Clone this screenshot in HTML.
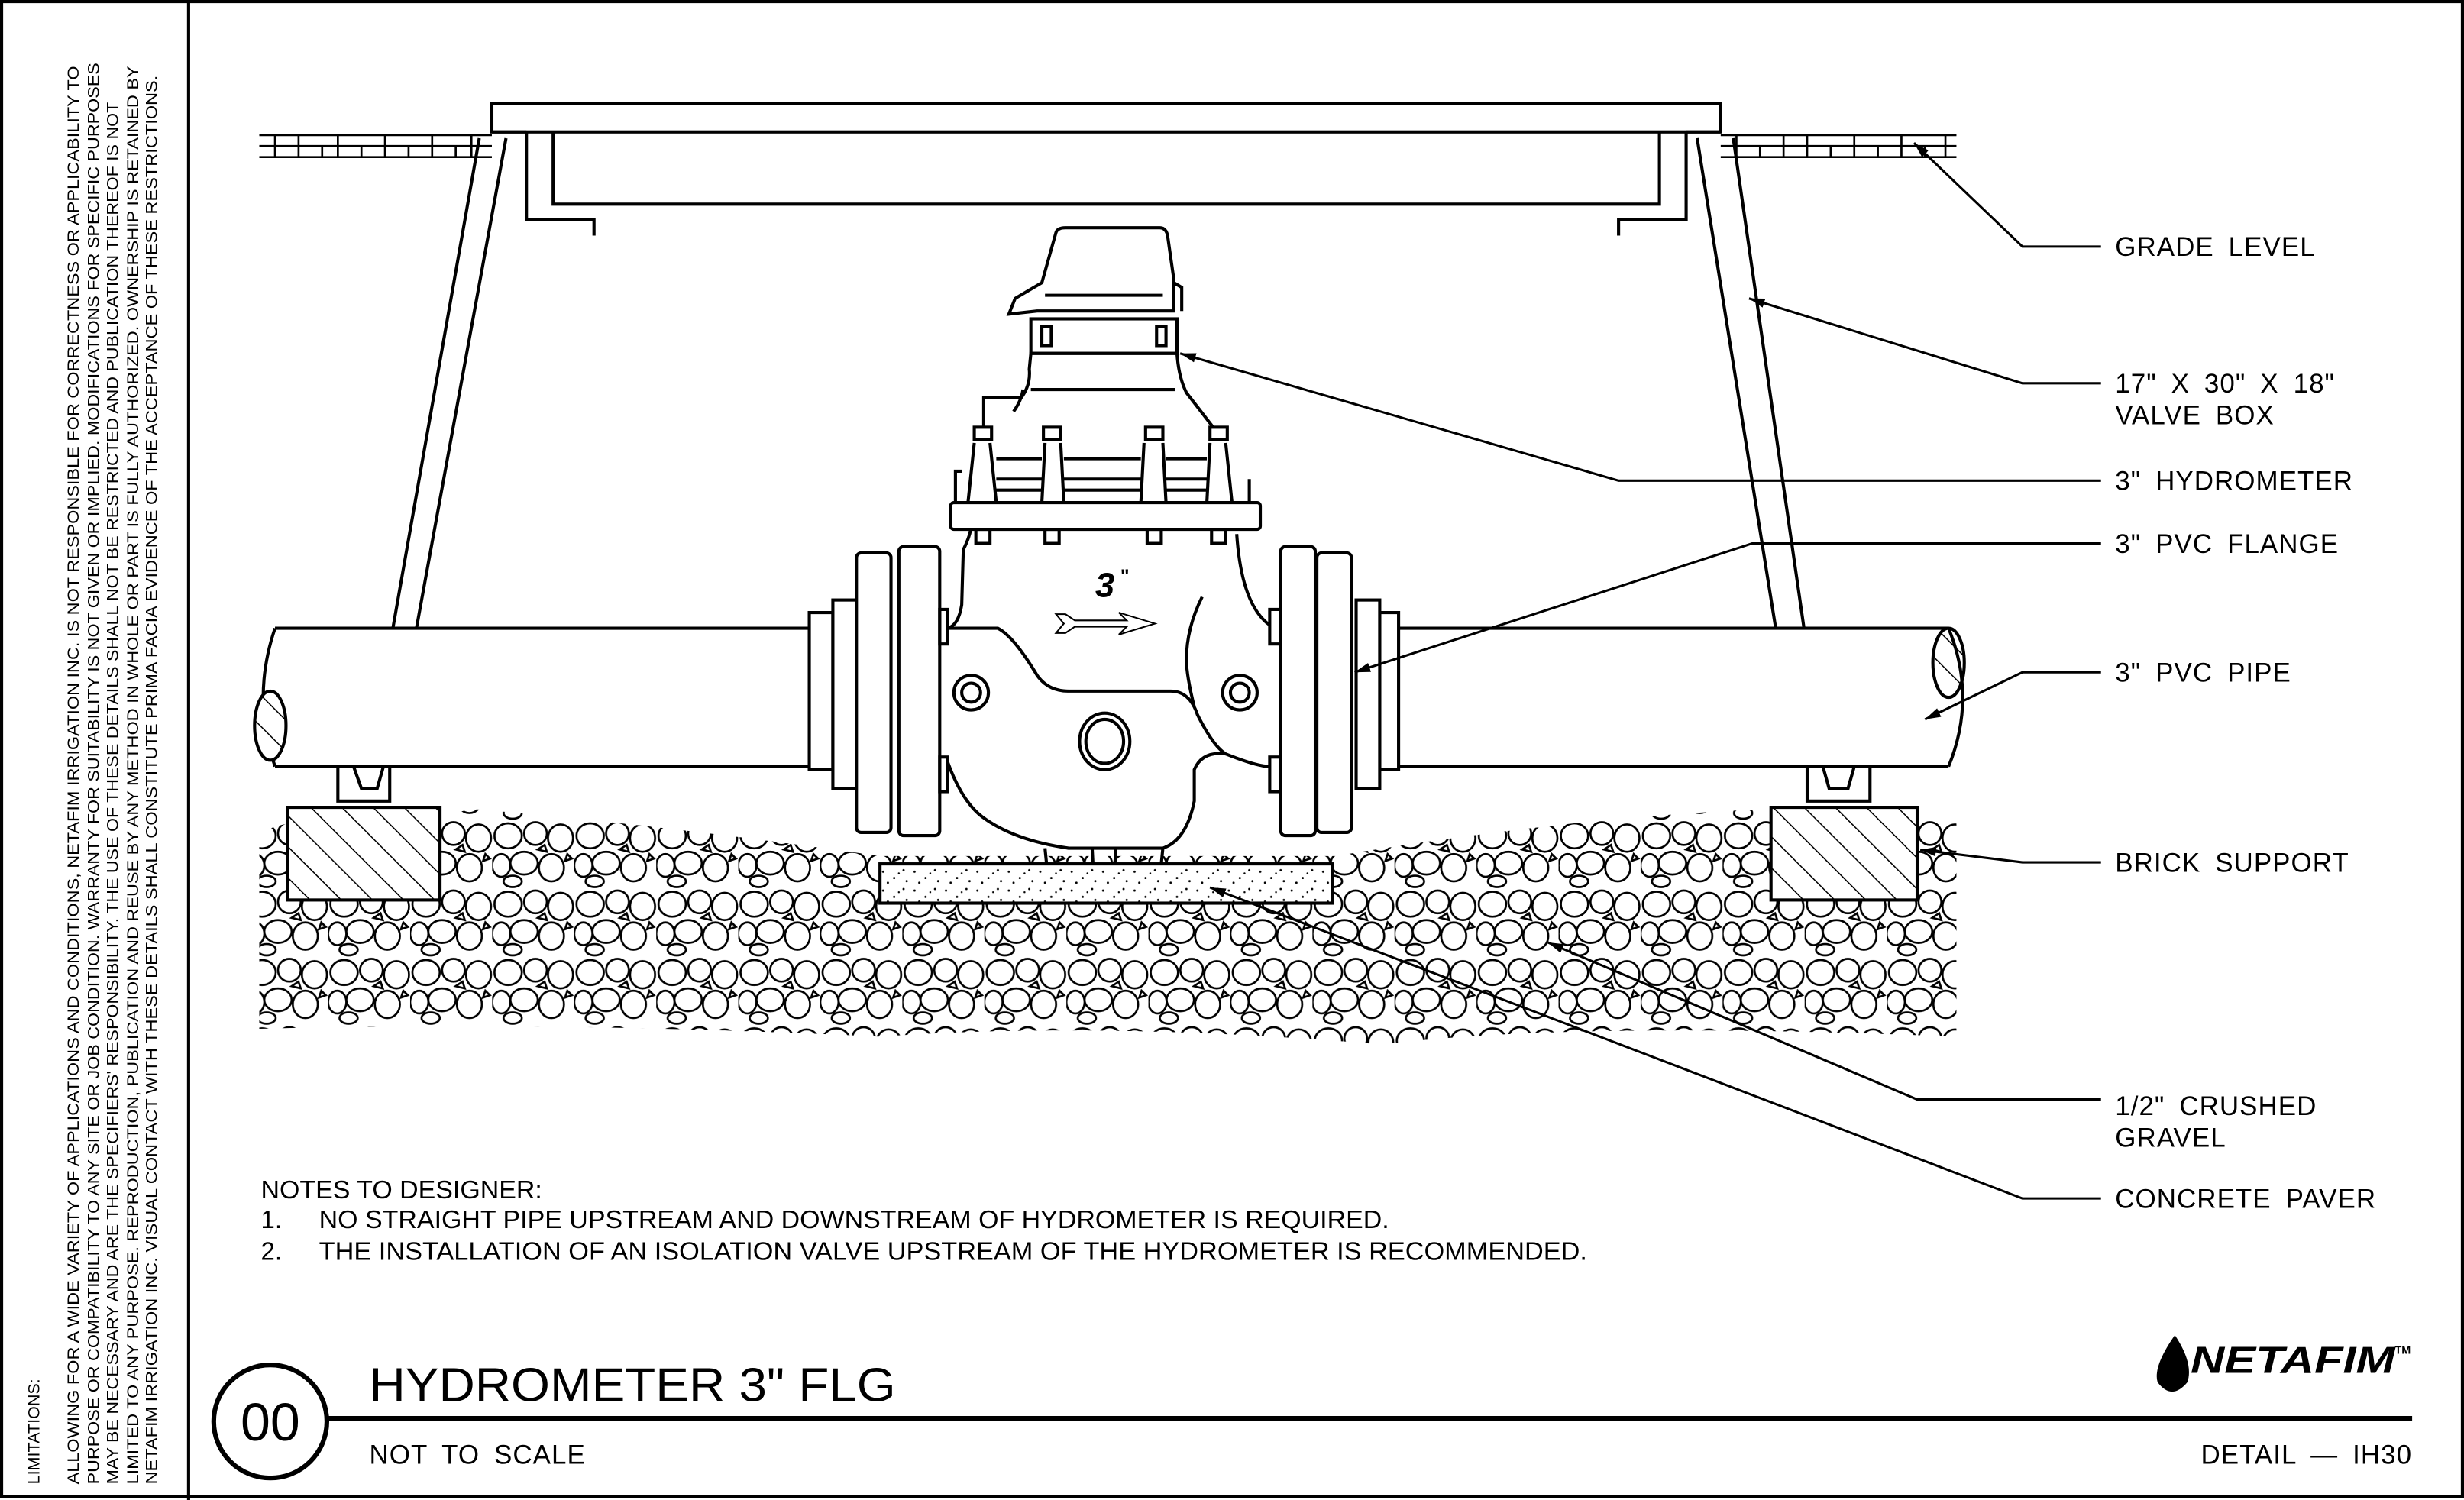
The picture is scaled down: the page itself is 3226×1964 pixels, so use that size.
<!DOCTYPE html>
<html><head><meta charset="utf-8"><style>
html,body{margin:0;padding:0;background:#fff}
svg{display:block}
text{font-family:"Liberation Sans",sans-serif;fill:#000}
</style></head><body>
<svg width="3226" height="1964" viewBox="0 0 1568 955" preserveAspectRatio="none" xmlns="http://www.w3.org/2000/svg">
<defs>
<pattern id="grav" width="36" height="30" patternUnits="userSpaceOnUse" patternTransform="scale(1.45)">
<rect width="36" height="30" fill="#fff"/>
<g fill="none" stroke="#000" stroke-width="0.9">
<ellipse cx="7" cy="7" rx="6" ry="5.5"/><ellipse cx="19" cy="6" rx="5" ry="5"/><ellipse cx="30" cy="8" rx="5.5" ry="6"/>
<ellipse cx="4" cy="20" rx="4" ry="5"/><ellipse cx="14" cy="19" rx="6" ry="5"/><ellipse cx="26" cy="21" rx="5.5" ry="6"/>
<ellipse cx="9" cy="27" rx="4" ry="2.5"/><path d="M20 13 l3 -2 l1 3z M33 15 l2 2 l-3 1z"/>
</g></pattern>
<pattern id="hatch" width="14" height="14" patternUnits="userSpaceOnUse" patternTransform="rotate(-45)">
<rect width="14" height="14" fill="#fff"/><line x1="0" y1="0" x2="0" y2="14" stroke="#000" stroke-width="1.5"/></pattern>
<pattern id="dots" width="20" height="12" patternUnits="userSpaceOnUse">
<rect width="20" height="12" fill="#fff"/>
<g fill="#000"><circle cx="2" cy="3" r=".7"/><circle cx="9" cy="7" r=".7"/><circle cx="15" cy="2" r=".7"/><circle cx="17" cy="9" r=".7"/><circle cx="5" cy="10" r=".7"/><circle cx="12" cy="4" r=".6"/></g></pattern>
<marker id="ar" markerWidth="10" markerHeight="6" refX="10" refY="3" orient="auto" markerUnits="userSpaceOnUse"><path d="M0 0 L10 3 L0 6z" fill="#000"/></marker>
</defs>
<rect x="1" y="1" width="1566" height="952" fill="#fff" stroke="#000" stroke-width="2"/>
<line x1="120" y1="0" x2="120" y2="955" stroke="#000" stroke-width="2"/>
<g font-size="10.5">
<text transform="translate(25,945) rotate(-90)">LIMITATIONS:</text>
<text transform="translate(50,945) rotate(-90)" textLength="903" lengthAdjust="spacingAndGlyphs">ALLOWING FOR A WIDE VARIETY OF APPLICATIONS AND CONDITIONS, NETAFIM IRRIGATION INC. IS NOT RESPONSIBLE FOR CORRECTNESS OR APPLICABILITY TO</text>
<text transform="translate(63,945) rotate(-90)" textLength="905" lengthAdjust="spacingAndGlyphs">PURPOSE OR COMPATIBILITY TO ANY SITE OR JOB CONDITION. WARRANTY FOR SUITABILITY IS NOT GIVEN OR IMPLIED. MODIFICATIONS FOR SPECIFIC PURPOSES</text>
<text transform="translate(75,945) rotate(-90)" textLength="880" lengthAdjust="spacingAndGlyphs">MAY BE NECESSARY AND ARE THE SPECIFIERS' RESPONSIBILITY. THE USE OF THESE DETAILS SHALL NOT BE RESTRICTED AND PUBLICATION THEREOF IS NOT</text>
<text transform="translate(88,945) rotate(-90)" textLength="903" lengthAdjust="spacingAndGlyphs">LIMITED TO ANY PURPOSE.  REPRODUCTION, PUBLICATION AND REUSE BY ANY METHOD IN WHOLE OR PART IS FULLY AUTHORIZED. OWNERSHIP IS RETAINED BY</text>
<text transform="translate(100,945) rotate(-90)" textLength="897" lengthAdjust="spacingAndGlyphs">NETAFIM IRRIGATION INC.  VISUAL CONTACT WITH THESE DETAILS SHALL CONSTITUTE PRIMA FACIA EVIDENCE OF THE ACCEPTANCE OF THESE RESTRICTIONS.</text>
</g>
<!-- gravel -->
<path d="M165 530 Q200 515 280 520 L300 515 Q420 525 560 545 L850 545 Q1000 520 1127 515 L1245 520 L1245 660 Q1000 650 880 665 Q700 650 560 660 Q350 650 165 655 Z" fill="url(#grav)"/>
<g fill="none" stroke="#000" stroke-width="2">
<g stroke-width="1.3">
<path d="M165 86 H313 M165 93 H313 M165 100 H313 M1095 86 H1245 M1095 93 H1245 M1095 100 H1245"/>
<path d="M175 86 v14 M190 86 v14 M205 93 v7 M215 86 v14 M230 93 v7 M245 86 v14 M260 93 v7 M275 86 v14 M290 93 v7 M300 86 v14 M1105 86 v14 M1120 93 v7 M1135 86 v14 M1150 86 v14 M1165 93 v7 M1180 86 v14 M1195 93 v7 M1210 86 v14 M1225 93 v7 M1238 86 v14"/>
</g>
<rect x="313" y="66" width="782" height="18" fill="#fff"/>
<path d="M335 84 V140 H378 V150 M1073 84 V140 H1030 V150 M352 84 V130 H1056 V84"/>
<path d="M305 88 L250 400 M322 88 L265 400 M313 84 H335"/>
<path d="M1103 88 L1148 400 M1080 88 L1130 400 M1073 84 H1095"/>
<path d="M215 488 V510 H248 V488 M225 488 L230 502 H240 L244 488"/>
<path d="M1150 488 V510 H1190 V488 M1160 488 L1164 502 H1176 L1180 488"/>
<path d="M175 400 H515 M175 488 H515 M890 400 H1240 M890 488 H1240" />
<path d="M175 400 Q160 444 175 488"/>
<ellipse cx="172" cy="462" rx="10" ry="22" fill="url(#hatch)"/>
<ellipse cx="1240" cy="422" rx="10" ry="22" fill="url(#hatch)"/>
<path d="M1240 400 Q1258 444 1240 488"/>
<rect x="515" y="390" width="15" height="100" fill="#fff"/>
<rect x="530" y="382" width="15" height="120" fill="#fff"/>
<rect x="545" y="352" width="22" height="178" rx="3" fill="#fff"/>
<rect x="572" y="348" width="26" height="184" rx="3" fill="#fff"/>
<rect x="598" y="388" width="5" height="22"/><rect x="598" y="482" width="5" height="22"/>
<rect x="878" y="390" width="12" height="100" fill="#fff"/>
<rect x="863" y="382" width="15" height="120" fill="#fff"/>
<rect x="838" y="352" width="22" height="178" rx="3" fill="#fff"/>
<rect x="815" y="348" width="22" height="184" rx="3" fill="#fff"/>
<rect x="808" y="388" width="7" height="22"/><rect x="808" y="482" width="7" height="22"/>
<path d="M603 400 L635 400 Q645 405 660 430 Q667 440 680 440 L745 440 Q757 440 762 455 Q772 475 780 480 Q800 488 808 488"/>
<path d="M603 485 Q612 510 625 520 Q645 535 680 540 L740 540 Q755 535 760 510 L760 490 Q765 478 780 480"/>
<path d="M603 400 Q610 398 612 385 L613 350 Q618 340 618 334"/>
<path d="M808 398 Q790 385 787 340"/>
<path d="M760 450 Q755 430 755 420 Q755 400 765 380"/>
<path d="M665 540 L667 560 M740 540 L738 560 M695 540 L696 560 M710 540 L709 560"/>
<circle cx="618" cy="441" r="11"/><circle cx="618" cy="441" r="6"/>
<circle cx="789" cy="441" r="11"/><circle cx="789" cy="441" r="6"/>
<ellipse cx="703" cy="472" rx="16" ry="18"/><ellipse cx="703" cy="472" rx="12" ry="14"/>
<rect x="605" y="320" width="197" height="17" rx="2" fill="#fff"/>
<path d="M608 320 V300 H612 M795 320 V305"/>
<path d="M620 282 L616 320 M630 282 L634 320 M665 282 L663 320 M675 282 L677 320 M728 282 L726 320 M740 282 L742 320 M770 282 L768 320 M780 282 L784 320"/>
<path d="M634 292 H663 M677 292 H726 M742 292 H768 M634 305 H663 M677 305 H726 M742 305 H768 M634 312 H663 M677 312 H726 M742 312 H768"/>
<rect x="620" y="272" width="11" height="8"/><rect x="664" y="272" width="11" height="8"/><rect x="729" y="272" width="11" height="8"/><rect x="770" y="272" width="11" height="8"/>
<rect x="621" y="337" width="9" height="9"/><rect x="665" y="337" width="9" height="9"/><rect x="730" y="337" width="9" height="9"/><rect x="771" y="337" width="9" height="9"/>
<path d="M626 272 V253 H650 Q656 245 655 235 L656 225 H749 Q750 240 755 250 L772 272"/>
<path d="M656 248 H748 M645 262 Q650 255 651 248"/>
<rect x="656" y="203" width="93" height="22"/>
<rect x="663" y="208" width="6" height="12"/><rect x="736" y="208" width="6" height="12"/>
<path d="M660 198 L642 200 L646 190 L663 180 L672 148 Q673 145 678 145 L738 145 Q742 145 743 150 L747 178 V198 Z"/>
<path d="M665 188 H740 M747 180 L752 183 V198"/>
</g>
<rect x="183" y="514" width="97" height="59" fill="url(#hatch)" stroke="#000" stroke-width="2"/>
<rect x="1127" y="514" width="93" height="59" fill="url(#hatch)" stroke="#000" stroke-width="2"/>
<rect x="560" y="550" width="288" height="25" fill="url(#dots)" stroke="#000" stroke-width="2"/>
<text x="697" y="380" font-size="22" font-weight="bold" font-style="italic">3</text>
<text x="713" y="371" font-size="12" font-weight="bold">"</text>
<path d="M672 391 L678 391 L684 395 L717 395 L712 390 L735 397 L712 404 L717 399 L684 399 L678 403 L672 403 L677 397 Z" fill="#fff" stroke="#000" stroke-width="1"/>
<g fill="none" stroke="#000" stroke-width="1.5">
<path d="M1337 157 H1287 L1218 91" marker-end="url(#ar)"/>
<path d="M1337 244 H1287 L1113 190" marker-end="url(#ar)"/>
<path d="M1337 306 H1030 L751 225" marker-end="url(#ar)"/>
<path d="M1337 346 H1115 L862 428" marker-end="url(#ar)"/>
<path d="M1337 428 H1287 L1225 458" marker-end="url(#ar)"/>
<path d="M1337 549 H1287 L1222 541" marker-end="url(#ar)"/>
<path d="M1337 700 H1220 L985 600" marker-end="url(#ar)"/>
<path d="M1337 763 H1287 L770 565" marker-end="url(#ar)"/>
</g>
<g font-size="17" letter-spacing="0.5" word-spacing="4">
<text x="1346" y="163">GRADE LEVEL</text>
<text x="1346" y="250">17" X 30" X 18"</text>
<text x="1346" y="270">VALVE BOX</text>
<text x="1346" y="312">3" HYDROMETER</text>
<text x="1346" y="352">3" PVC FLANGE</text>
<text x="1346" y="434">3" PVC PIPE</text>
<text x="1346" y="555">BRICK SUPPORT</text>
<text x="1346" y="710">1/2" CRUSHED</text>
<text x="1346" y="730">GRAVEL</text>
<text x="1346" y="769">CONCRETE PAVER</text>
</g>
<g font-size="16">
<text x="166" y="763" textLength="179" lengthAdjust="spacingAndGlyphs">NOTES TO DESIGNER:</text>
<text x="166" y="782">1.</text>
<text x="203" y="782" textLength="681" lengthAdjust="spacingAndGlyphs">NO STRAIGHT PIPE UPSTREAM AND DOWNSTREAM OF HYDROMETER IS REQUIRED.</text>
<text x="166" y="802">2.</text>
<text x="203" y="802" textLength="807" lengthAdjust="spacingAndGlyphs">THE INSTALLATION OF AN ISOLATION VALVE UPSTREAM OF THE HYDROMETER IS RECOMMENDED.</text>
</g>
<circle cx="172" cy="905" r="36" fill="#fff" stroke="#000" stroke-width="3"/>
<text x="172" y="917" font-size="34" text-anchor="middle">00</text>
<line x1="208" y1="903" x2="1535" y2="903" stroke="#000" stroke-width="3"/>
<text x="235" y="892" font-size="30" textLength="335" lengthAdjust="spacingAndGlyphs">HYDROMETER 3" FLG</text>
<text x="235" y="932" font-size="17" letter-spacing="0.5" word-spacing="4">NOT TO SCALE</text>
<text x="1535" y="932" font-size="17" text-anchor="end" letter-spacing="0.5" word-spacing="4">DETAIL — IH30</text>
<path d="M1384 850 Q1370 870 1373 880 Q1382 892 1392 880 Q1396 868 1384 850Z" fill="#000"/>
<text x="1394" y="874" font-size="24" font-weight="bold" font-style="italic" textLength="130" lengthAdjust="spacingAndGlyphs">NETAFIM</text>
<text x="1524" y="862" font-size="7" font-weight="bold">TM</text>
</svg>
</body></html>
